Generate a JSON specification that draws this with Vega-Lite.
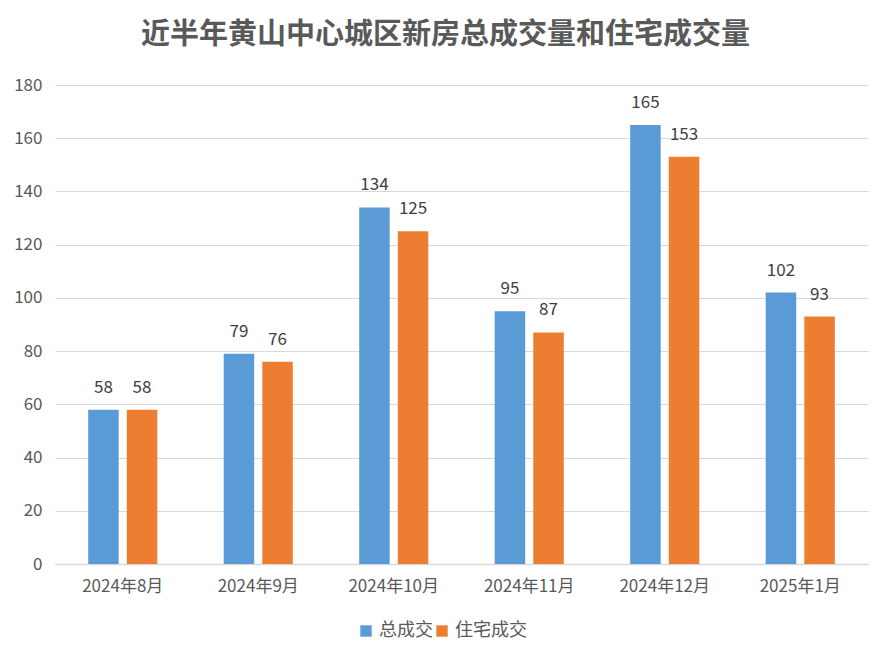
{
  "$schema": "https://vega.github.io/schema/vega-lite/v6.json",
  "autosize": "none",
  "padding": {"left": 55, "top": 85, "right": 21, "bottom": 97},
  "width": 813,
  "height": 479,
  "background": "white",
  "title": {
    "text": "近半年黄山中心城区新房总成交量和住宅成交量",
    "font": "Noto Sans CJK SC",
    "fontSize": 29,
    "fontWeight": "bold",
    "color": "#595959",
    "anchor": "middle",
    "dx": -16,
    "offset": 26
  },
  "data": {
    "values": [
      {"month": "2024年8月", "series": "总成交", "value": 58},
      {"month": "2024年8月", "series": "住宅成交", "value": 58},
      {"month": "2024年9月", "series": "总成交", "value": 79},
      {"month": "2024年9月", "series": "住宅成交", "value": 76},
      {"month": "2024年10月", "series": "总成交", "value": 134},
      {"month": "2024年10月", "series": "住宅成交", "value": 125},
      {"month": "2024年11月", "series": "总成交", "value": 95},
      {"month": "2024年11月", "series": "住宅成交", "value": 87},
      {"month": "2024年12月", "series": "总成交", "value": 165},
      {"month": "2024年12月", "series": "住宅成交", "value": 153},
      {"month": "2025年1月", "series": "总成交", "value": 102},
      {"month": "2025年1月", "series": "住宅成交", "value": 93}
    ]
  },
  "encoding": {
    "x": {
      "field": "month",
      "type": "nominal",
      "sort": null,
      "scale": {"paddingInner": 0.49, "paddingOuter": 0.245},
      "axis": {
        "title": null,
        "labelAngle": 0,
        "ticks": false,
        "domainColor": "#d9d9d9",
        "domainWidth": 1.5,
        "labelFont": "Noto Sans CJK SC",
        "labelFontSize": 17,
        "labelColor": "#595959",
        "labelPadding": 14
      }
    },
    "xOffset": {
      "field": "series",
      "type": "nominal",
      "sort": ["总成交", "住宅成交"],
      "scale": {"paddingInner": 0.21, "paddingOuter": 0}
    },
    "y": {
      "field": "value",
      "type": "quantitative",
      "scale": {"domain": [0, 180]},
      "axis": {
        "title": null,
        "values": [0, 20, 40, 60, 80, 100, 120, 140, 160, 180],
        "domain": false,
        "ticks": false,
        "gridColor": "#d9d9d9",
        "gridWidth": 1.2,
        "labelFont": "Noto Sans CJK SC",
        "labelFontSize": 17,
        "labelColor": "#595959",
        "labelPadding": 13
      }
    }
  },
  "layer": [
    {
      "mark": {"type": "bar"},
      "encoding": {
        "color": {
          "field": "series",
          "type": "nominal",
          "sort": ["总成交", "住宅成交"],
          "scale": {"domain": ["总成交", "住宅成交"], "range": ["#5B9BD5", "#ED7D31"]},
          "legend": {
            "title": null,
            "orient": "none",
            "legendX": 302,
            "legendY": 537,
            "direction": "horizontal",
            "symbolType": "square",
            "symbolSize": 130,
            "symbolStrokeWidth": 0,
            "labelFont": "Noto Sans CJK SC",
            "labelFontSize": 18,
            "labelColor": "#595959",
            "columnPadding": 0,
            "labelOffset": 4
          }
        }
      }
    },
    {
      "mark": {
        "type": "text",
        "dy": -22,
        "font": "Noto Sans CJK SC",
        "fontSize": 17,
        "color": "#404040"
      },
      "encoding": {
        "text": {"field": "value", "type": "quantitative"}
      }
    }
  ],
  "config": {
    "view": {"stroke": null}
  }
}
